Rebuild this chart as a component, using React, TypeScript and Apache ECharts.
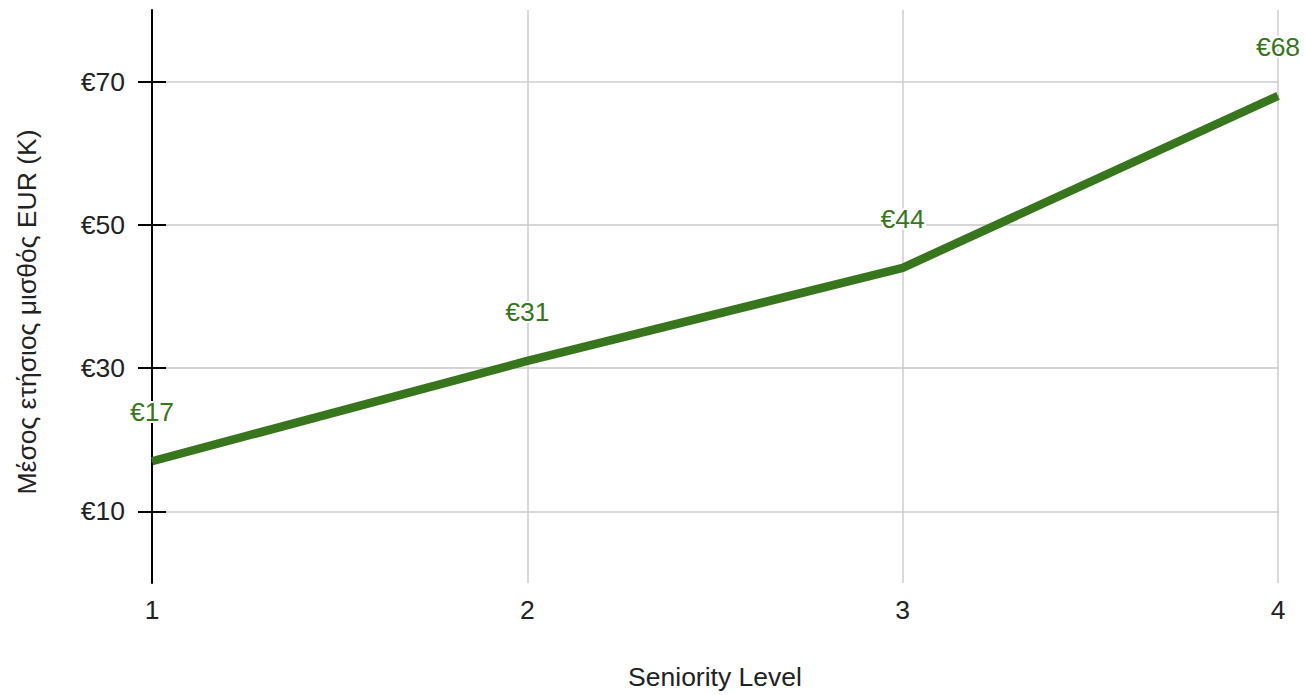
import React, { useEffect, useRef } from "react";
import * as echarts from "echarts";

const levels = [1, 2, 3, 4];
const salaries = [17, 31, 44, 68];
const yLabelValues = [10, 30, 50, 70];
const xTitle = "Seniority Level";
const yTitle = "Μέσος ετήσιος μισθός EUR (K)";

const FONT = "'Liberation Sans', Arial, sans-serif";
const GREEN = "#38761d";

export default function App() {
  const ref = useRef<HTMLDivElement>(null);
  useEffect(() => {
    document.body.style.margin = "0";
    const chart = echarts.init(ref.current!, null, { renderer: "svg" });
    chart.setOption({
      animation: false,
      grid: { left: 152, right: 28, top: 10, bottom: 109, containLabel: false },
      xAxis: {
        type: "value",
        min: 1,
        max: 4,
        interval: 1,
        name: xTitle,
        nameLocation: "middle",
        nameGap: 80,
        nameTextStyle: { fontFamily: FONT, fontSize: 26.5, color: "#222" },
        axisLine: { show: false },
        axisTick: { show: false },
        axisLabel: { fontFamily: FONT, fontSize: 26.5, color: "#222", margin: 13 },
        splitLine: { show: true, showMinLine: false, lineStyle: { color: "#cccccc", width: 1.5 } },
      },
      yAxis: [
        {
          type: "value",
          min: 0,
          max: 80,
          interval: 20,
          axisLine: { show: true, onZero: false, lineStyle: { color: "#000", width: 2 } },
          axisTick: { show: true, length: 14, customValues: yLabelValues, lineStyle: { color: "#000", width: 2 } },
          axisLabel: {
            fontFamily: FONT,
            fontSize: 26.5,
            color: "#222",
            margin: 27,
            customValues: yLabelValues,
            formatter: (v: number) => "€" + v,
          },
          splitLine: { show: true, showMinLine: false, showMaxLine: false, lineStyle: { color: "#e8e8e8", width: 1.5 } },
          minorTick: { show: false, splitNumber: 2 },
          minorSplitLine: { show: true, lineStyle: { color: "#cccccc", width: 1.5 } },
        },
        {
          type: "value",
          min: 0,
          max: 80,
          interval: 20,
          position: "left",
          axisLine: { show: false },
          axisTick: { show: true, inside: true, length: 14, customValues: yLabelValues, lineStyle: { color: "#000", width: 2 } },
          axisLabel: { show: false },
          splitLine: { show: false },
        },
      ],
      graphic: [
        {
          type: "text",
          x: 27,
          y: 312,
          rotation: Math.PI / 2,
          style: {
            text: yTitle,
            font: `26.5px ${FONT}`,
            fill: "#222",
            align: "center",
            verticalAlign: "middle",
          },
        },
      ],
      series: [
        {
          type: "line",
          yAxisIndex: 0,
          data: levels.map((l, i) => [l, salaries[i]]),
          showSymbol: true,
          symbol: "circle",
          symbolSize: 1,
          itemStyle: { color: GREEN },
          lineStyle: { color: GREEN, width: 8.5 },
          label: {
            show: true,
            position: "top",
            distance: 35,
            fontFamily: FONT,
            fontSize: 26.5,
            color: GREEN,
            textBorderColor: "#fff",
            textBorderWidth: 4,
            formatter: (p: any) => "€" + p.value[1],
          },
          z: 5,
        },
      ],
    });
    return () => chart.dispose();
  }, []);
  return <div ref={ref} style={{ width: 1306, height: 695 }} />;
}
